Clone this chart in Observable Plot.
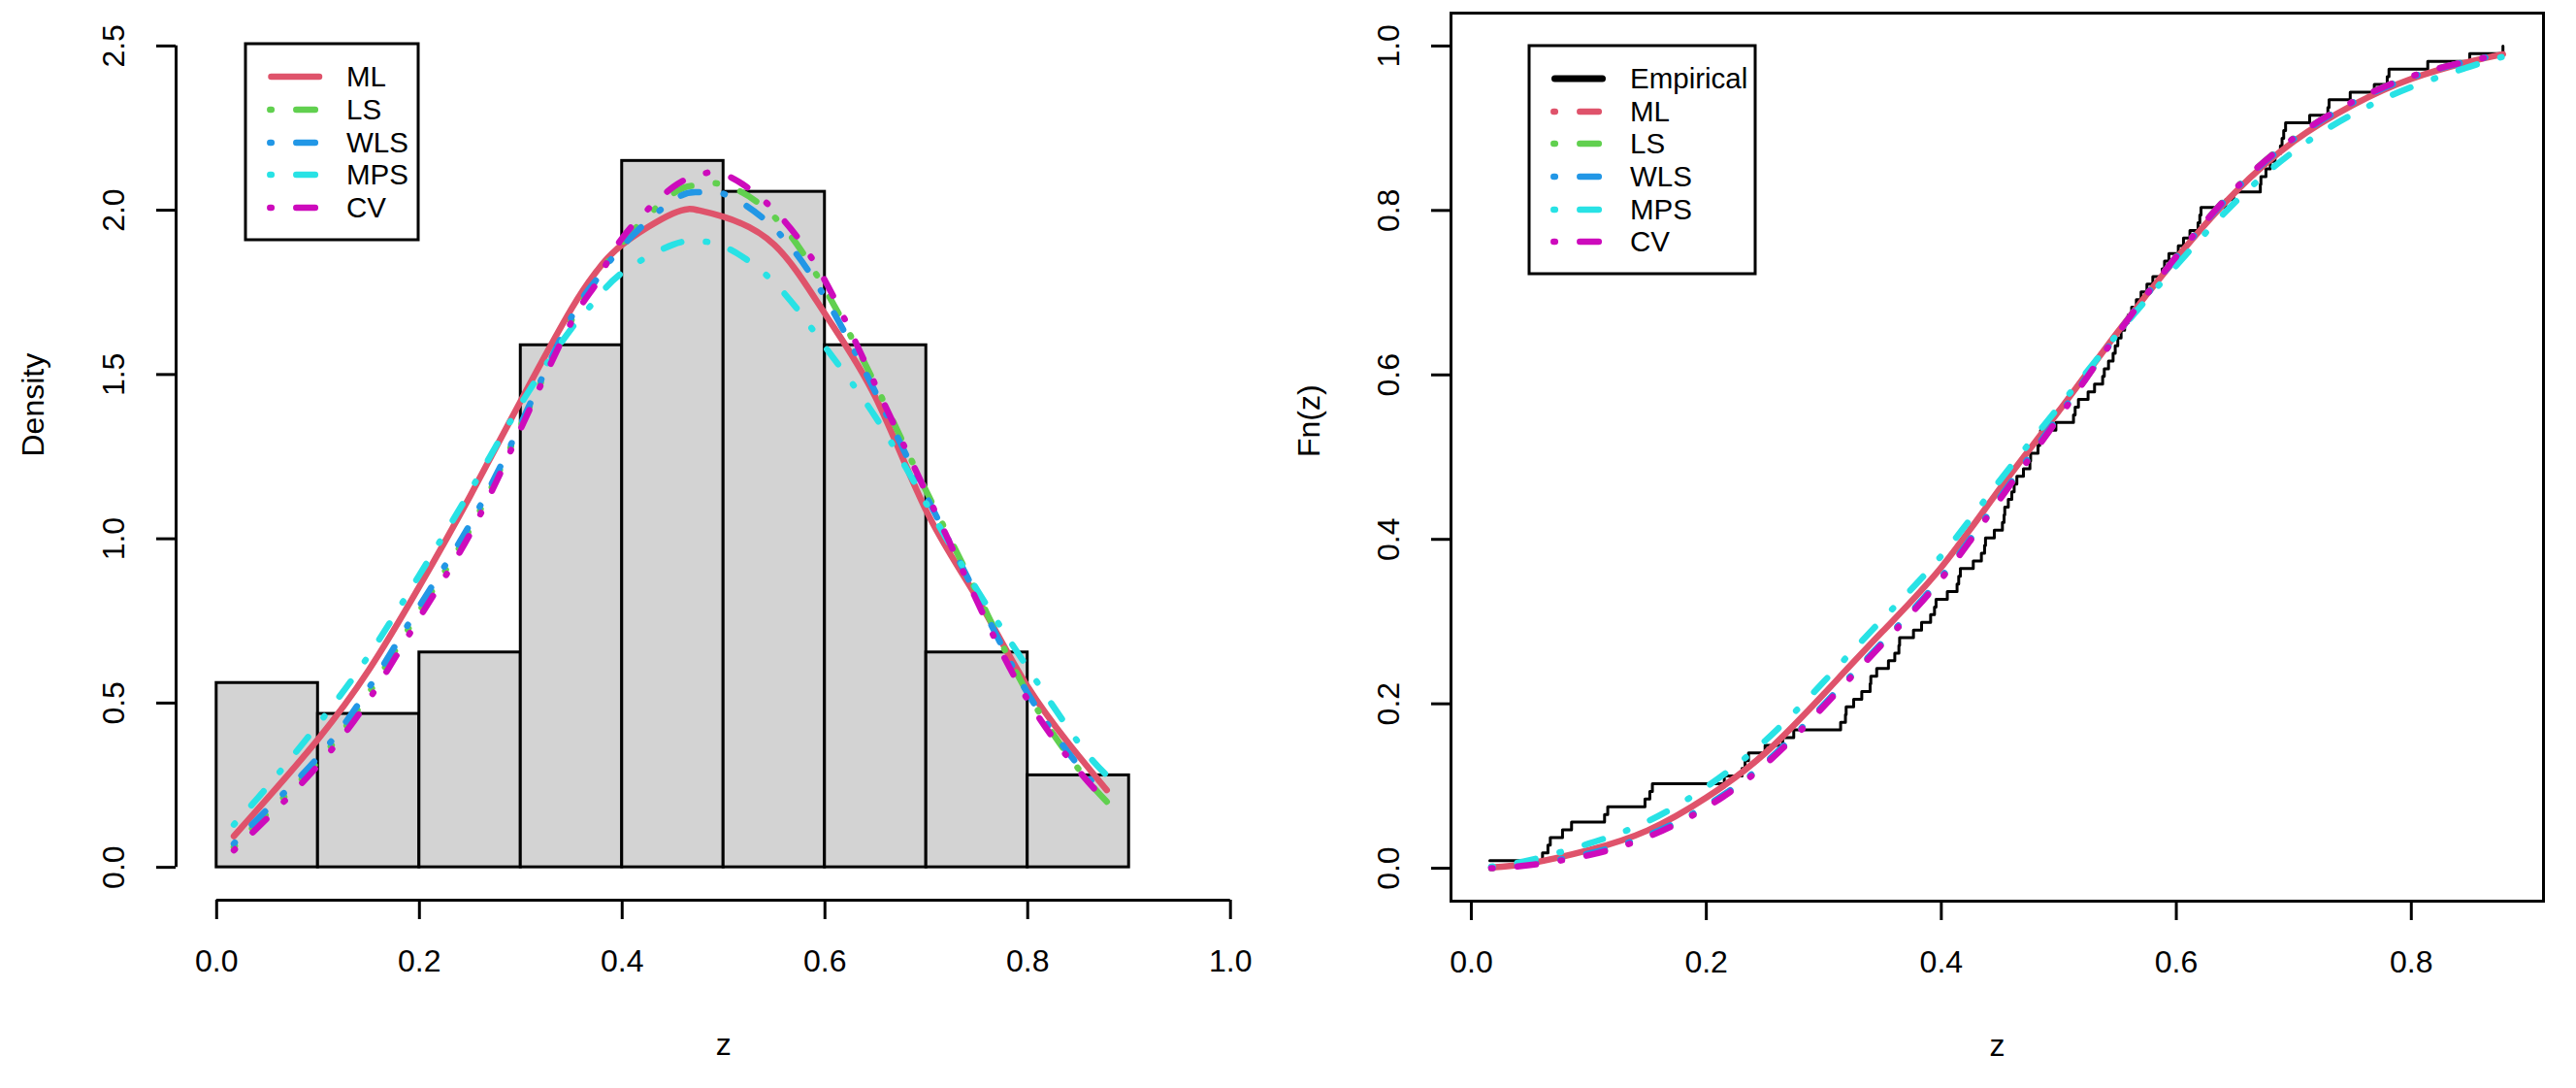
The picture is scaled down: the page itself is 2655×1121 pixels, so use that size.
<!DOCTYPE html>
<html><head><meta charset="utf-8">
<script src="https://cdn.jsdelivr.net/npm/d3@7"></script>
<script src="https://cdn.jsdelivr.net/npm/@observablehq/plot@0.6"></script>
<style>
html,body{margin:0;padding:0;background:#fff;}
#wrap{position:relative;width:2655px;height:1121px;overflow:hidden;background:#fff;}
#left{position:absolute;left:0;top:0;}
#right{position:absolute;left:1327px;top:0;}
svg{overflow:visible;}
</style></head><body><div id="wrap"><div id="left"></div><div id="right"></div></div>
<script>
// ---------- data ----------
const methods = ["ML", "LS", "WLS", "MPS", "CV"];
const methodColors = ["#DF536B", "#61D04F", "#2297E6", "#28E2E5", "#CD0BBC"];

// histogram (density scale)
const binStart = [0.0, 0.1, 0.2, 0.3, 0.4, 0.5, 0.6, 0.7, 0.8];
const binEnd   = [0.1, 0.2, 0.3, 0.4, 0.5, 0.6, 0.7, 0.8, 0.9];
const binDensity = [0.561, 0.467, 0.654, 1.589, 2.150, 2.056, 1.589, 0.654, 0.280];

// fitted densities
const densX   = [0.017, 0.05, 0.10, 0.15, 0.20, 0.25, 0.30, 0.35, 0.375, 0.40, 0.45, 0.475, 0.50, 0.55, 0.60, 0.65, 0.70, 0.75, 0.80, 0.85, 0.878];
const densML  = [0.095, 0.21, 0.39, 0.60, 0.855, 1.13, 1.42, 1.70, 1.815, 1.895, 1.99, 2.00, 1.98, 1.895, 1.685, 1.43, 1.085, 0.82, 0.55, 0.34, 0.235];
const densLS  = [0.062, 0.165, 0.322, 0.53, 0.78, 1.03, 1.345, 1.665, 1.79, 1.90, 2.05, 2.075, 2.078, 1.98, 1.76, 1.468, 1.145, 0.835, 0.53, 0.30, 0.200];
const densWLS = [0.072, 0.177, 0.335, 0.545, 0.795, 1.045, 1.35, 1.675, 1.79, 1.89, 2.03, 2.055, 2.05, 1.945, 1.735, 1.445, 1.13, 0.825, 0.53, 0.31, 0.215];
const densMPS = [0.13, 0.245, 0.435, 0.645, 0.89, 1.145, 1.41, 1.64, 1.73, 1.81, 1.895, 1.905, 1.89, 1.78, 1.585, 1.37, 1.107, 0.845, 0.607, 0.38, 0.28];
const densCV  = [0.052, 0.15, 0.31, 0.51, 0.76, 1.015, 1.335, 1.66, 1.78, 1.915, 2.07, 2.105, 2.11, 2.00, 1.786, 1.467, 1.14, 0.81, 0.51, 0.295, 0.20];

// empirical sample (sorted), n = 107
const sampleZ = [0.0157,0.0606,0.0652,0.0672,0.0776,0.0853,
 0.1134,0.1161,0.1478,0.1519,0.1541,
 0.2153,0.2304,0.2330,0.2359,0.2500,0.2650,0.2744,
 0.3143,0.3184,0.3190,0.3254,0.3323,0.3394,0.3400,0.3450,0.3550,0.3604,0.3639,0.3645,0.3763,0.3832,0.3909,0.3942,0.3955,
 0.4051,0.4134,0.4148,0.4162,0.4272,0.4341,0.4368,0.4376,0.4451,0.4520,0.4534,0.4540,0.4570,0.4600,0.4620,0.4643,0.4699,0.4754,0.4760,0.4823,0.4837,0.4845,0.4975,
 0.5125,0.5139,0.5167,0.5249,0.5304,0.5373,0.5387,0.5423,0.5462,0.5480,0.5502,0.5530,0.5560,0.5590,0.5620,0.5660,0.5700,0.5750,0.5800,0.5880,0.5900,0.5937,
 0.6017,0.6061,0.6116,0.6185,0.6200,0.6210,0.6420,0.6488,0.6715,0.6720,0.6763,0.6800,0.6840,0.6886,0.6900,0.6914,0.6930,
 0.7135,0.7290,0.7300,0.7480,0.7685,0.7795,0.7810,
 0.8140,0.8497,0.8780];

// fitted CDFs
const cdfX   = [0.017, 0.05, 0.10, 0.15, 0.20, 0.25, 0.30, 0.35, 0.40, 0.45, 0.50, 0.55, 0.60, 0.65, 0.70, 0.75, 0.80, 0.85, 0.878];
const cdfML  = [0.001, 0.006, 0.022, 0.046, 0.086, 0.140, 0.212, 0.288, 0.366, 0.462, 0.556, 0.652, 0.742, 0.822, 0.884, 0.928, 0.960, 0.981, 0.990];
const cdfLS  = [0.000, 0.005, 0.017, 0.039, 0.075, 0.127, 0.198, 0.274, 0.353, 0.450, 0.549, 0.650, 0.744, 0.826, 0.888, 0.932, 0.963, 0.982, 0.990];
const cdfWLS = [0.001, 0.005, 0.018, 0.040, 0.076, 0.128, 0.199, 0.275, 0.354, 0.451, 0.550, 0.650, 0.743, 0.825, 0.887, 0.931, 0.962, 0.982, 0.990];
const cdfMPS = [0.002, 0.010, 0.030, 0.057, 0.099, 0.155, 0.227, 0.303, 0.380, 0.472, 0.561, 0.650, 0.733, 0.810, 0.872, 0.917, 0.950, 0.975, 0.987];
const cdfCV  = [0.000, 0.004, 0.016, 0.038, 0.074, 0.126, 0.197, 0.273, 0.352, 0.449, 0.548, 0.650, 0.744, 0.826, 0.888, 0.932, 0.963, 0.982, 0.990];

// axes ticks
const leftXTicks  = [0, 0.2, 0.4, 0.6, 0.8, 1.0];
const leftYTicks  = [0, 0.5, 1.0, 1.5, 2.0, 2.5];
const rightXTicks = [0, 0.2, 0.4, 0.6, 0.8];
const rightYTicks = [0, 0.2, 0.4, 0.6, 0.8, 1.0];

// ---------- helpers ----------
const FONT = "'Liberation Sans', Arial, Helvetica, sans-serif";
const DOTDASH = "1.5,25.5,19.5,25.5";
const LW = 6.5;
const fmt = d3.format(".1f");
const hist = binStart.map((s, i) => ({x1: s, x2: binEnd[i], density: binDensity[i]}));
const densSeries = [densML, densLS, densWLS, densMPS, densCV];
const cdfSeries = [cdfML, cdfLS, cdfWLS, cdfMPS, cdfCV];
const rows = (xs, ys) => xs.map((x, i) => ({x, y: ys[i]}));
const ecdfRows = sampleZ.map((z, i) => ({x: z, y: (i + 1) / sampleZ.length}));

function curveMarks(xs, seriesList, solidML) {
  return seriesList.map((ys, i) => Plot.line(rows(xs, ys), {
    x: "x", y: "y", curve: "natural",
    stroke: methodColors[i], strokeWidth: LW,
    strokeLinecap: "round", strokeLinejoin: "round",
    strokeDasharray: (i === 0 && solidML) ? null : DOTDASH
  }));
}

function axisMarks(xTicks, yTicks, withLines, xd, yd) {
  const m = [
    Plot.axisX({ticks: xTicks, tickSize: 20, strokeWidth: 3, tickFormat: () => null, label: null}),
    Plot.axisY({ticks: yTicks, tickSize: 20, strokeWidth: 3, tickFormat: () => null, label: null}),
    Plot.text(xTicks, {x: d => d, text: d => fmt(d), frameAnchor: "bottom", dy: 63, lineAnchor: "middle", textAnchor: "middle", fontSize: 32, fill: "black"}),
    Plot.text(yTicks, {y: d => d, text: d => fmt(d), frameAnchor: "left", dx: -64, rotate: -90, lineAnchor: "middle", textAnchor: "middle", fontSize: 32, fill: "black"})
  ];
  if (withLines) {
    m.push(Plot.ruleX([xd[0]], {y1: yTicks[0], y2: yTicks[yTicks.length - 1], stroke: "black", strokeWidth: 3}));
    m.push(Plot.ruleY([yd[0]], {x1: xTicks[0], x2: xTicks[xTicks.length - 1], stroke: "black", strokeWidth: 3}));
  }
  return m;
}

function addLegend(svg, box, rowsY, entries, textX) {
  const g = d3.select(svg).append("g");
  g.append("rect").attr("x", box[0]).attr("y", box[1]).attr("width", box[2]).attr("height", box[3])
    .attr("fill", "white").attr("stroke", "black").attr("stroke-width", 3);
  entries.forEach((e, i) => {
    const y = rowsY[i];
    g.append("line").attr("x1", e.x1).attr("x2", e.x2).attr("y1", y).attr("y2", y)
      .attr("stroke", e.color).attr("stroke-width", e.width || LW).attr("stroke-linecap", "round")
      .attr("stroke-dasharray", e.dash ? DOTDASH : null);
    g.append("text").attr("x", textX).attr("y", y).attr("dy", "0.35em")
      .attr("text-anchor", "start")
      .attr("font-family", FONT).attr("font-size", 29.5).attr("fill", "black").text(e.label);
  });
}

// ---------- left: histogram + densities ----------
const lxd = [-0.04, 1.04], lyd = [-0.1, 2.6];
const left = Plot.plot({
  width: 1327, height: 1121,
  marginLeft: 181, marginRight: 17.5, marginTop: 13, marginBottom: 194,
  x: {domain: lxd}, y: {domain: lyd},
  style: {fontFamily: FONT, fontSize: "32px", color: "black", background: "white"},
  marks: [
    Plot.rectY(hist, {x1: "x1", x2: "x2", y: "density", fill: "#D3D3D3", stroke: "black", strokeWidth: 3, insetLeft: 0, insetRight: 0}),
    ...curveMarks(densX, densSeries, true),
    ...axisMarks(leftXTicks, leftYTicks, true, lxd, lyd),
    Plot.text(["z"], {text: d => d, frameAnchor: "bottom", dy: 149, fontSize: 32, lineAnchor: "middle", fill: "black"}),
    Plot.text(["Density"], {text: d => d, frameAnchor: "left", dx: -147, rotate: -90, fontSize: 32, lineAnchor: "middle", fill: "black"})
  ]
});
document.getElementById("left").appendChild(left);
addLegend(left, [253, 45, 178, 202], [79, 113, 147, 180, 214],
  methods.map((m, i) => i === 0
    ? {label: m, color: methodColors[i], x1: 279.5, x2: 329, dash: false}
    : {label: m, color: methodColors[i], x1: 278.3, x2: 332, dash: true}), 357);

// ---------- right: ECDF + fitted CDFs ----------
const rxd = [-0.0173, 0.9125], ryd = [-0.04, 1.04];
const right = Plot.plot({
  width: 1328, height: 1121,
  marginLeft: 168, marginRight: 34, marginTop: 13, marginBottom: 193,
  x: {domain: rxd}, y: {domain: ryd},
  style: {fontFamily: FONT, fontSize: "32px", color: "black", background: "white"},
  marks: [
    Plot.line(ecdfRows, {x: "x", y: "y", curve: "step-after", stroke: "black", strokeWidth: 3}),
    ...curveMarks(cdfX, cdfSeries, true),
    Plot.frame({stroke: "black", strokeWidth: 3}),
    ...axisMarks(rightXTicks, rightYTicks, false, rxd, ryd),
    Plot.text(["z"], {text: d => d, frameAnchor: "bottom", dy: 149, fontSize: 32, lineAnchor: "middle", fill: "black"}),
    Plot.text(["Fn(z)"], {text: d => d, frameAnchor: "left", dx: -146, rotate: -90, fontSize: 32, lineAnchor: "middle", fill: "black"})
  ]
});
document.getElementById("right").appendChild(right);
addLegend(right, [249, 47, 233, 235], [81, 115, 148, 182, 216, 249],
  [{label: "Empirical", color: "black", x1: 275.5, x2: 324.5, dash: false, width: 7}]
    .concat(methods.map((m, i) => ({label: m, color: methodColors[i], x1: 274.3, x2: 328, dash: true}))), 353);
</script></body></html>
